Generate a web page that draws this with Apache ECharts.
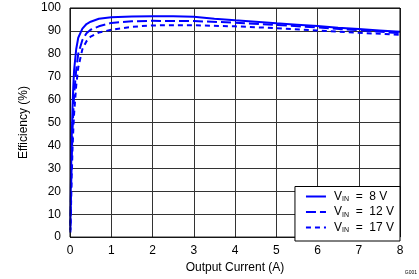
<!DOCTYPE html>
<html>
<head>
<meta charset="utf-8">
<script src="https://cdn.jsdelivr.net/npm/echarts@6/dist/echarts.min.js"></script>
<style>html,body{margin:0;padding:0;background:#fff}#c{width:419px;height:279px}</style>
</head>
<body>
<div id="c"></div>
<script>
var seriesNames = ['8 V', '12 V', '17 V'];
var xTicks = [0, 1, 2, 3, 4, 5, 6, 7, 8];
var yTicks = [0, 10, 20, 30, 40, 50, 60, 70, 80, 90, 100];
var vin8X = [0.01, 0.02, 0.04, 0.06, 0.08, 0.1, 0.15, 0.2, 0.3, 0.4, 0.5, 0.7, 1, 1.5, 2, 2.5, 3, 3.5, 4, 4.5, 5, 5.5, 6, 6.5, 7, 7.5, 8];
var vin8Y = [5, 22, 42, 56, 66, 73, 82, 87, 91, 93, 94, 95.3, 96, 96.3, 96.4, 96.4, 96.2, 95.3, 94.6, 94, 93.3, 92.7, 92.1, 91.4, 90.8, 90.2, 89.6];
var vin12X = [0.01, 0.02, 0.04, 0.06, 0.08, 0.1, 0.15, 0.2, 0.3, 0.4, 0.5, 0.7, 1, 1.5, 2, 3, 4, 5, 6, 7, 8];
var vin12Y = [3, 15, 33, 46, 55, 62, 73, 80, 86, 89, 90.5, 92, 93.5, 94.2, 94.4, 94.3, 93.6, 92.6, 91.5, 90.3, 89];
var vin17X = [0.01, 0.02, 0.04, 0.06, 0.08, 0.1, 0.15, 0.2, 0.3, 0.4, 0.5, 0.7, 1, 1.5, 2, 3, 4, 5, 6, 7, 8];
var vin17Y = [2, 10, 25, 38, 47, 54, 66, 74, 82, 85.5, 87.5, 89.3, 90.5, 91.8, 92.4, 92.5, 92, 91.2, 90.2, 89.2, 88.3];

function zip(xs, ys) { return xs.map(function (x, i) { return [x, ys[i]]; }); }

var font = 'Liberation Sans, Arial, sans-serif';
var chart = echarts.init(document.getElementById('c'), null, {renderer: 'canvas'});
var dashes = ['solid', [10, 4], [5, 4]];
var datas = [zip(vin8X, vin8Y), zip(vin12X, vin12Y), zip(vin17X, vin17Y)];
var series = seriesNames.map(function (n, i) {
  return {
    name: n, type: 'line', data: datas[i], symbol: 'none', smooth: false,
    lineStyle: {color: '#0000ff', width: 2, type: dashes[i]},
    itemStyle: {color: '#0000ff'}
  };
});
chart.setOption({
  animation: false,
  backgroundColor: '#fff',
  textStyle: {fontFamily: font},
  grid: {left: 70, right: 19, top: 8, bottom: 38, show: true, borderColor: '#000', borderWidth: 1, z: 5},
  xAxis: {
    type: 'value', min: xTicks[0], max: xTicks[xTicks.length - 1], interval: 1,
    name: 'Output Current (A)', nameLocation: 'middle', nameGap: 20,
    nameTextStyle: {fontSize: 12, color: '#000', fontFamily: font},
    axisLine: {show: false}, axisTick: {show: false},
    axisLabel: {fontSize: 12, color: '#000', margin: 8, fontFamily: font},
    splitLine: {show: true, lineStyle: {color: '#333', width: 1}}
  },
  yAxis: {
    type: 'value', min: yTicks[0], max: yTicks[yTicks.length - 1], interval: 10,
    name: 'Efficiency (%)', nameLocation: 'middle', nameGap: 29,
    nameTextStyle: {fontSize: 12, color: '#000', fontFamily: font},
    axisLine: {show: false}, axisTick: {show: false},
    axisLabel: {fontSize: 12, color: '#000', margin: 9, fontFamily: font},
    splitLine: {show: true, lineStyle: {color: '#333', width: 1}}
  },
  legend: {
    orient: 'vertical', right: 19, bottom: 38,
    backgroundColor: '#fff', borderColor: '#000', borderWidth: 1, borderRadius: 0,
    padding: [4, 6, 7, 10], itemGap: 3, itemWidth: 20, itemHeight: 12,
    data: seriesNames,
    itemStyle: {opacity: 0},
    lineStyle: {width: 2, color: '#0000ff'},
    formatter: function (n) { return '{v|V}{s|IN}{v|  =  ' + n + '}'; },
    textStyle: {
      fontFamily: font, color: '#000', fontSize: 12, padding: [0, 0, 0, 3],
      rich: {
        v: {fontSize: 12, fontFamily: font, color: '#000', height: 13},
        s: {fontSize: 7, fontFamily: font, color: '#000', verticalAlign: 'bottom', padding: [6, 0, 0, 0]}
      }
    },
    z: 10
  },
  graphic: [
    {type: 'text', right: 2, bottom: 4, style: {text: 'G001', fontSize: 5, fill: '#000', fontFamily: font}}
  ],
  series: series
});
</script>
</body>
</html>
